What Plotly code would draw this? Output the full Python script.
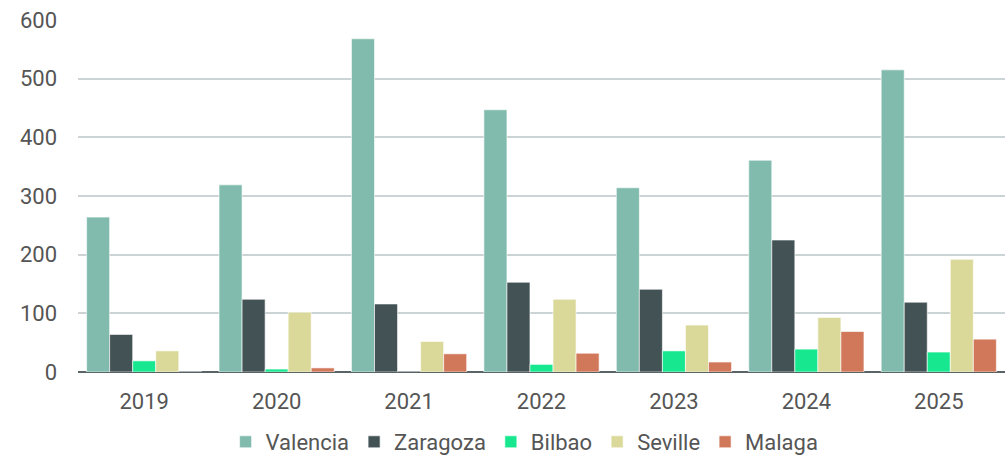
import plotly.graph_objects as go

years = ["2019", "2020", "2021", "2022", "2023", "2024", "2025"]
valencia = [264, 319, 568, 447, 314, 361, 515]
zaragoza = [64, 124, 116, 153, 141, 225, 119]
bilbao = [19, 5, 0, 13, 36, 39, 34]
seville = [36, 102, 52, 124, 80, 93, 192]
malaga = [0, 7, 31, 32, 17, 69, 56]

series = [
    ("Valencia", valencia, "#80bbad"),
    ("Zaragoza", zaragoza, "#435254"),
    ("Bilbao", bilbao, "#17e88f"),
    ("Seville", seville, "#dbd99a"),
    ("Malaga", malaga, "#d2785a"),
]

fig = go.Figure()
for name, vals, col in series:
    fig.add_trace(go.Bar(
        x=years, y=vals, name=name,
        marker=dict(color=col, line=dict(color="rgba(255,255,255,0.6)", width=1)),
    ))

font_fam = "Roboto, sans-serif"
fig.update_layout(
    width=1005, height=456,
    margin=dict(l=78, r=0, t=20, b=84, autoexpand=False),
    paper_bgcolor="white", plot_bgcolor="white",
    barmode="group", bargap=0.13, bargroupgap=0,
    font=dict(family=font_fam, size=22, color="#555555"),
    xaxis=dict(showgrid=False, ticks="", ticklabelstandoff=14, automargin=False,
               showline=False, zeroline=False),
    yaxis=dict(range=[0, 600], dtick=100, showgrid=True, gridcolor="#ccd3d4",
               gridwidth=2, zeroline=True, zerolinecolor="#5a6466", zerolinewidth=2,
               ticks="", ticklabelstandoff=20, showline=False, automargin=False),
    legend=dict(orientation="h", x=0.522, xref="container", xanchor="center",
                y=1 - 442 / 456, yref="container", yanchor="middle",
                font=dict(size=22, color="#555555"), itemwidth=30, tracegroupgap=0),
)
fig.write_html("out.html")
